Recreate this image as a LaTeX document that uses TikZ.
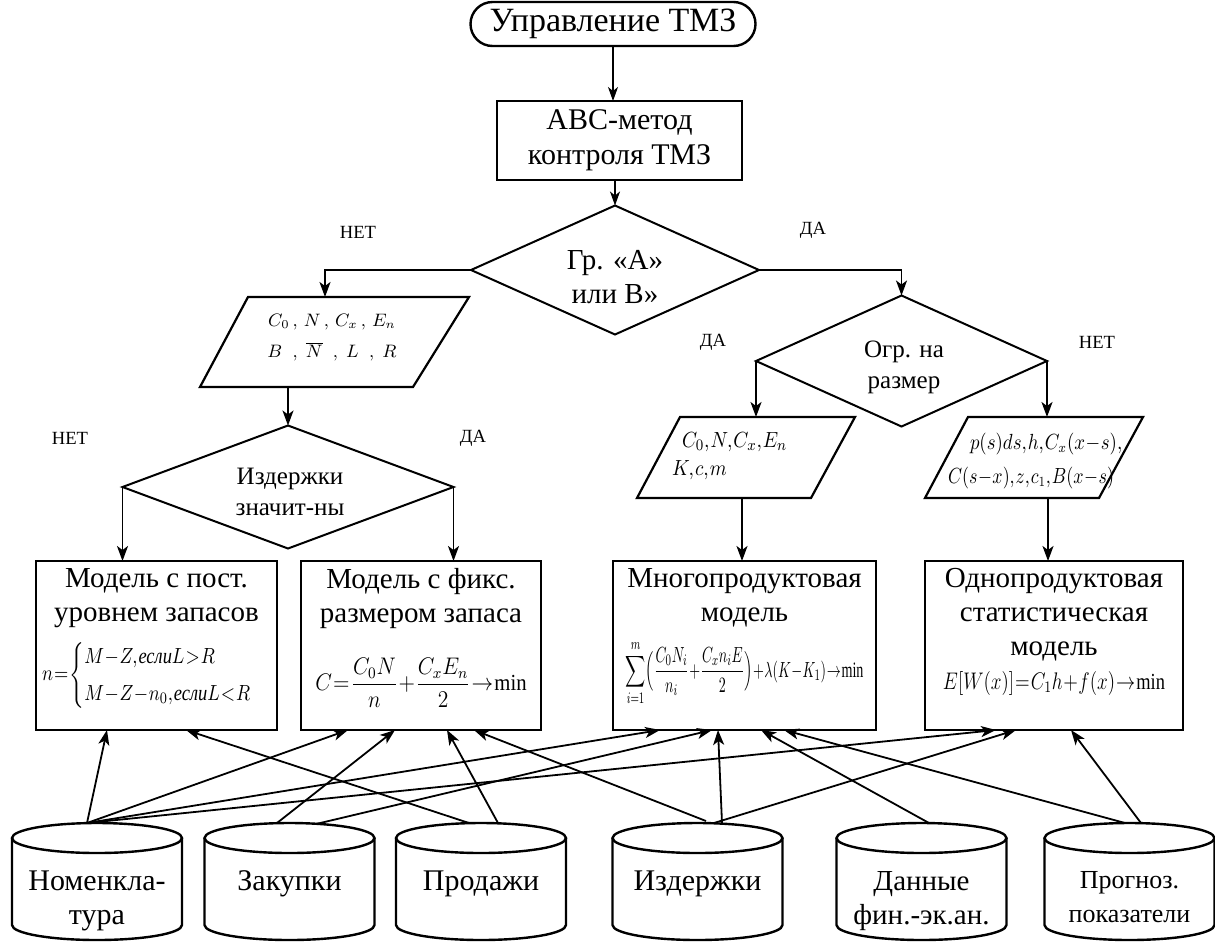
\documentclass[tikz,border=0pt]{standalone}
\usepackage{amsmath}
\usepackage{graphicx}
\usepackage{fontspec}
\setmainfont{Liberation Serif}
\newfontfamily\tms{Liberation Serif}
\usetikzlibrary{arrows.meta,shapes.geometric,calc}

\newcommand\mkcyl[4]{%
  \draw[cyl] (#2-85,838) -- (#2-85,925) arc[start angle=180,end angle=360,x radius=42.5pt,y radius=7.5pt] -- (#2+85,838);
  \draw[cyl] (#2,838) ellipse[x radius=42.5pt,y radius=7.5pt];
  \coordinate (#1) at (#2,823);
  \node[anchor=north,align=center,font=\tms\fontsize{#4}{17}\selectfont] (#1t) at (#2,871) {#3};
}
\newcommand\tightmath{\medmuskip=0.5mu\thickmuskip=1mu\thinmuskip=1mu}
\newcommand\esli{\text{\tms\itshape если}}

\begin{document}
\begin{tikzpicture}[x=0.5pt,y=-0.5pt,
  every node/.style={inner sep=0pt, outer sep=0pt},
  box/.style={draw, line width=1.4pt, rectangle},
  dia/.style={draw, diamond, line width=1pt},
  cyl/.style={line width=1.2pt},
  par/.style={draw, line width=1.1pt, line join=miter},
  ln/.style={line width=0.9pt},
  arr/.style={ln, -{Stealth[length=7.5pt,width=5.5pt,inset=2pt]}},
  thinarr/.style={line width=0.6pt, -{Stealth[length=7pt,width=5pt,inset=2pt]}},
  lbl/.style={font=\tms\fontsize{9.3}{11}\selectfont},
  txt/.style={font=\tms\fontsize{14.5}{17}\selectfont, align=center},
  dtxt/.style={font=\tms\fontsize{12.5}{15.5}\selectfont, align=center},
]
\useasboundingbox (0,0) rectangle (1215,943);

% top
\node[draw, line width=1.2pt, rounded corners=11pt, minimum width=142.5pt, minimum height=22pt, font=\tms\fontsize{17}{19}\selectfont] (term) at (613,24) {Управление ТМЗ};
\node[box, line width=1.2pt, minimum width=122.5pt, minimum height=39.5pt, align=center, font=\tms\fontsize{15}{17.5}\selectfont] (abc) at (619.5,140.5) {АВС-метод\\контроля ТМЗ};
\node[dia, minimum width=144pt, minimum height=64.5pt] (d1) at (615,270) {};
\node[txt] (d1t) at (615,277) {Гр. «А»\\или В»};
\node[lbl] (l1) at (358,232) {НЕТ};
\node[lbl] (l2) at (813,230) {ДА};

% parallelogram 1
\coordinate (p1a) at (200,387);
\coordinate (p1b) at (248,297);
\coordinate (p1c) at (469,297);
\coordinate (p1d) at (413,387);
\draw[par] (p1a) -- (p1b) -- (p1c) -- (p1d) -- cycle;
\coordinate (p1in) at (325,297);
\coordinate (p1out) at (288,387);
\node[align=center, font=\fontsize{9}{15.5}\selectfont] (p1t) at (332,338) {$C_0\,,\,N\,,\,C_x\,,\,E_n$\\$B\;\;,\;\overline{N}\;\;,\;L\;\;,\;R$};

% diamond 3
\node[dia, minimum width=165.5pt, minimum height=61.5pt] (d3) at (288,487) {};
\node[dtxt] (d3t) at (290,492) {Издержки\\значит-ны};
\node[lbl] (l3) at (70,438) {НЕТ};
\node[lbl] (l4) at (473,438) {ДА};

% diamond 2
\node[dia, minimum width=145.5pt, minimum height=65.5pt] (d2) at (901.5,361) {};
\node[dtxt] (d2t) at (904,367) {Огр. на\\размер};
\node[lbl] (l5) at (713,342) {ДА};
\node[lbl] (l6) at (1097,342) {НЕТ};

% parallelogram 2
\coordinate (p2a) at (637,498);
\coordinate (p2b) at (680,417);
\coordinate (p2c) at (855,417);
\coordinate (p2d) at (811,498);
\draw[par] (p2a) -- (p2b) -- (p2c) -- (p2d) -- cycle;
\coordinate (p2out) at (742,498);
\node[anchor=west, align=left, font=\fontsize{11}{14}\selectfont] (p2t) at (672,456) {\hspace{5pt}\scalebox{0.88}[1]{\tightmath$C_0,N,C_x,E_n$}\\\scalebox{0.88}[1]{\tightmath$K,c,m$}};

% parallelogram 3
\coordinate (p3a) at (925,498);
\coordinate (p3b) at (968,417);
\coordinate (p3c) at (1143,417);
\coordinate (p3d) at (1099,498);
\draw[par] (p3a) -- (p3b) -- (p3c) -- (p3d) -- cycle;
\coordinate (p3out) at (1048,498);
\node[anchor=west, align=left, font=\fontsize{10.5}{17}\selectfont] (p3t) at (948,461) {\hspace{11pt}\scalebox{0.86}[1]{\tightmath$p(s)ds,h,C_x(x-s),$}\\\scalebox{0.82}[1]{\tightmath$C(s-x),z,c_1,B(x-s)$}};

% boxes
\node[box, minimum width=120.5pt, minimum height=84.5pt] (b1) at (156.5,645.5) {};
\node[box, minimum width=120pt, minimum height=84.5pt] (b2) at (421,645.5) {};
\node[box, minimum width=131.5pt, minimum height=84.5pt] (b3) at (744.5,645.5) {};
\node[box, minimum width=129pt, minimum height=84.5pt] (b4) at (1054,645.5) {};

\node[txt, anchor=north] (b1t) at (156.5,568) {Модель с пост.\\уровнем запасов\\[6pt]{\fontsize{11}{13}\selectfont\scalebox{0.84}[1]{\tightmath$n=\begin{cases}M-Z,\esli L>R\\[3pt] M-Z-n_0,\esli L<R\end{cases}$}}};
\node[txt, anchor=north] (b2t) at (421,568) {Модель с фикс.\\размером запаса\\[14pt]{\fontsize{11.5}{13}\selectfont\scalebox{0.9}[1]{\tightmath$C=\dfrac{C_0N}{n}+\dfrac{C_xE_n}{2}\to\min$}}};
\node[txt, anchor=north] (b3t) at (744.5,568) {Многопродуктовая\\модель\\[6pt]{\fontsize{11}{13}\selectfont\scalebox{0.64}[1]{\tightmath$\displaystyle\sum_{i=1}^{m}\Bigl(\frac{C_0N_i}{n_i}+\frac{C_xn_iE}{2}\Bigr)+\lambda(K-K_1)\to\min$}}};
\node[txt, anchor=north] (b4t) at (1054,568) {Однопродуктовая\\статистическая\\модель\\{\fontsize{11.5}{13}\selectfont\scalebox{0.8}[1]{\tightmath$E[W(x)]=C_1h+f(x)\to\min$}}};

% cylinders
\mkcyl{nom}{97}{Номенкла-\\тура}{15}
\mkcyl{zak}{289.5}{Закупки}{15}
\mkcyl{prod}{481}{Продажи}{15}
\mkcyl{izd}{697.5}{Издержки}{15}
\mkcyl{dan}{921.5}{Данные\\фин.-эк.ан.}{14.5}
\mkcyl{prog}{1129.5}{Прогноз.\\показатели}{13}

% flow connectors
\draw[thinarr] (term.south) -- (term.south |- abc.north);
\draw[thinarr] (abc.south -| d1.north) -- (d1.north);
\draw[arr] (d1.west) -| (p1in);
\draw[arr] (d1.east) -| (d2.north);
\draw[arr] (p1out) -- (p1out |- d3.north);
\draw[arr] (d3.west) -- (d3.west |- b1.north);
\draw[arr] (d3.east) -- (d3.east |- b2.north);
\draw[arr] (d2.west) -- (d2.west |- p2b);
\draw[arr] (d2.east) -- (d2.east |- p3b);
\draw[arr] (p2out) -- (p2out |- b3.north);
\draw[arr] (p3out) -- (p3out |- b4.north);

% data connectors
\draw[arr] ($(nom)+(-10,0)$) -- ($(b1.south west)+(71,0)$);
\draw[arr] ($(nom)+(-10,0)$) -- ($(b2.south west)+(47,0)$);
\draw[arr] ($(nom)+(-10,0)$) -- ($(b3.south west)+(47,0)$);
\draw[arr] ($(nom)+(-10,0)$) -- ($(b4.south west)+(71,0)$);
\draw[arr] ($(zak)+(-12.5,0)$) -- ($(b2.south west)+(94,0)$);
\draw[arr] ($(zak)+(26.5,1)$) -- ($(b3.south west)+(99,0)$);
\draw[arr] ($(prod)+(-12,0)$) -- ($(b1.south west)+(150,0)$);
\draw[arr] ($(prod)+(17,0)$) -- ($(b2.south west)+(146,0)$);
\draw[arr] ($(izd)+(8.5,-2)$) -- ($(b2.south west)+(173,0)$);
\draw[arr] ($(izd)+(16.5,0)$) -- ($(b4.south west)+(91,0)$);
\draw[arr] ($(izd)+(24.5,0)$) -- ($(b3.south west)+(105,0)$);
\draw[arr] ($(dan)+(7.5,0)$) -- ($(b3.south west)+(148,0)$);
\draw[arr] ($(prog)+(-4.5,0)$) -- ($(b3.south west)+(171,0)$);
\draw[arr] ($(prog)+(11.5,0)$) -- ($(b4.south west)+(146,0)$);
\end{tikzpicture}
\end{document}
